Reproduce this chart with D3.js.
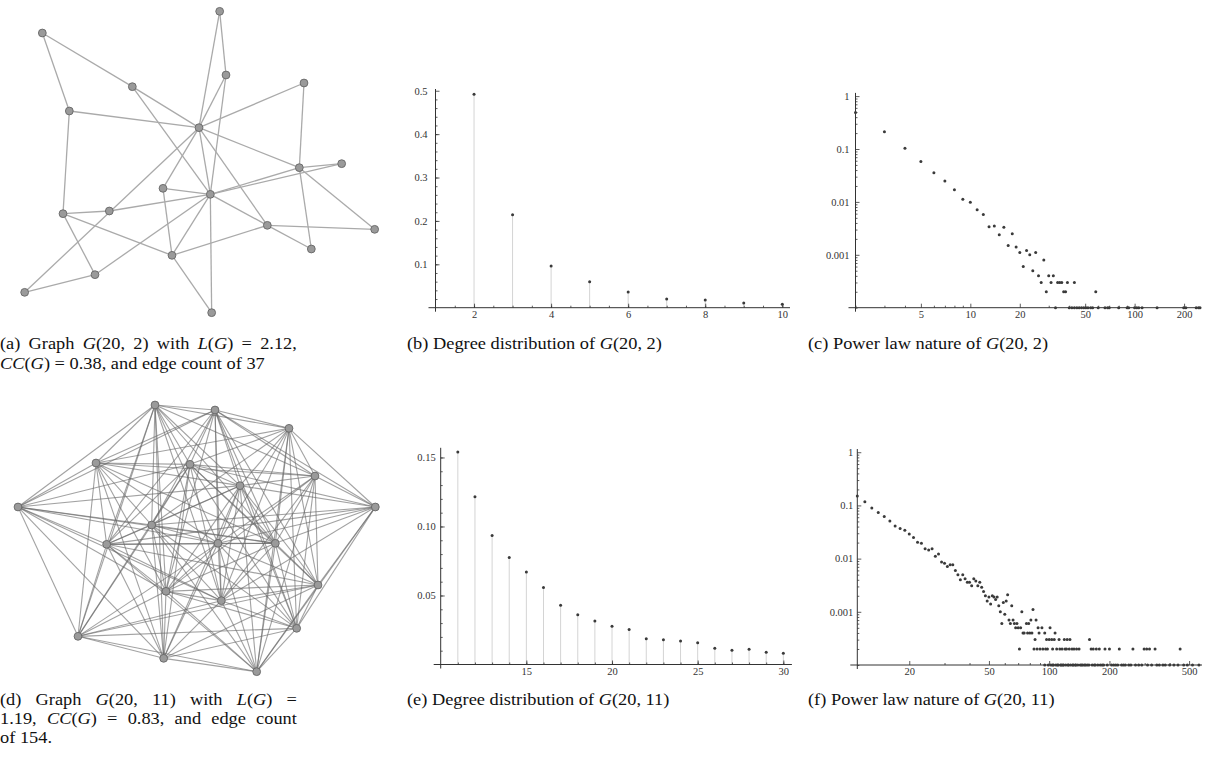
<!DOCTYPE html>
<html lang="en">
<head>
    <meta charset="utf-8">
    <title>G(20,k) graphs and degree distributions</title>
    <script src="https://cdn.jsdelivr.net/npm/d3@7"></script>
    <style>
        body { margin: 0; background: #fff; }
        svg text { font-family: "Liberation Serif", "DejaVu Serif", serif; }
        .tick text { fill: #333; font-size: 10.5px; }
    </style>
</head>
<body>
    <svg id="fig" width="1206" height="763"></svg>

    <script>
        // ---------------- data ----------------
        // graph G(20,2): node layout coords and edge list
        const nodes2 = [
            [127, 99], [659, 34], [678, 225], [397, 260], [912, 249], [208, 333], [597, 383],
            [898, 503], [1025, 491], [489, 565], [631, 583], [189, 641], [328, 633], [802, 676],
            [1124, 688], [934, 747], [516, 766], [285, 824], [74, 877], [635, 938]
        ];
        const edges2 = [
            [0, 3], [0, 5], [3, 6], [3, 10], [1, 6], [1, 2], [2, 6], [2, 10], [4, 6], [4, 7],
            [5, 6], [5, 11], [6, 7], [6, 9], [6, 10], [6, 13], [18, 6], [7, 8], [7, 14], [7, 15],
            [8, 10], [7, 10], [9, 10], [9, 16], [10, 12], [10, 13], [10, 16], [10, 17], [10, 19],
            [11, 12], [11, 16], [11, 17], [13, 14], [13, 15], [13, 16], [16, 19], [17, 18]
        ];

        // graph G(20,11): node layout coords and neighbours (j > i) of each node
        const nodes11 = [
            [465, 30], [645, 45], [867, 100], [288, 204], [570, 208], [945, 243], [720, 272],
            [54, 336], [1126, 336], [455, 390], [320, 448], [654, 445], [826, 445], [954, 570],
            [498, 589], [664, 617], [890, 700], [234, 724], [491, 790], [770, 830]
        ];
        const adj11 = [
            [1, 2, 3, 4, 5, 6, 7, 9, 10, 11, 12, 14, 15, 17, 18],
            [2, 3, 4, 5, 6, 7, 8, 9, 10, 11, 12, 13, 14, 15, 16],
            [3, 4, 5, 6, 8, 9, 11, 12, 13, 15, 16, 19],
            [4, 5, 6, 7, 9, 10, 11, 12, 14, 17, 18],
            [5, 6, 7, 8, 9, 10, 12, 13, 14, 15, 16, 17, 18],
            [6, 8, 11, 12, 13, 14, 15, 16, 19],
            [7, 8, 9, 10, 11, 12, 13, 14, 15, 16, 18, 19],
            [9, 10, 11, 12, 14, 15, 17, 18],
            [9, 10, 11, 12, 13, 15, 16, 19],
            [10, 11, 12, 14, 15, 16, 17, 18, 19],
            [11, 12, 13, 14, 15, 17, 18, 19],
            [12, 13, 14, 15, 16, 17, 18, 19],
            [13, 14, 15, 16, 19],
            [14, 15, 16, 17, 18, 19],
            [15, 16, 17, 18, 19],
            [16, 17, 18, 19],
            [17, 18, 19],
            [18, 19],
            [19],
            []
        ];

        // (b) degree distribution of G(20,2)
        const degB = [2, 3, 4, 5, 6, 7, 8, 9, 10];
        const probB = [0.492, 0.214, 0.096, 0.060, 0.036, 0.020, 0.018, 0.011, 0.008];

        // (c) power law of G(20,2): [degree, fraction]
        const powC = [
            [2, 0.49], [3, 0.212], [4, 0.103], [5, 0.058], [6, 0.0356], [7, 0.0248], [8, 0.017],
            [9, 0.0112], [10, 0.0098], [11, 0.0071], [12, 0.0058], [13, 0.0034], [14, 0.0035],
            [15, 0.0024], [16, 0.0033], [17, 0.0015], [18, 0.0025], [19, 0.0014], [20, 0.0011],
            [21, 0.0006], [22, 0.0012], [23, 0.001], [24, 0.0005], [25, 0.0011], [26, 0.0004],
            [27, 0.0003], [28, 0.0008], [29, 0.0002], [30, 0.0004], [31, 0.0003], [32, 0.0004],
            [34, 0.0003], [35, 0.0003], [36, 0.0003], [37, 0.0002], [38, 0.0002], [39, 0.0003],
            [43, 0.0003], [58, 0.0002]
        ];
        // degrees of (c) sitting on the bottom line (1e-4)
        const floorC = [33, 40, 41.5, 43, 44.5, 46, 47.5, 49, 50.5, 52, 54, 55.5, 60, 66, 68.5, 70,
            80, 90, 92, 100, 103, 106, 111, 137, 199, 205, 237, 245, 250];

        // (e) degree distribution of G(20,11)
        const degE = [11, 12, 13, 14, 15, 16, 17, 18, 19, 20, 21, 22, 23, 24, 25, 26, 27, 28, 29, 30];
        const probE = [0.1539, 0.1215, 0.0935, 0.0775, 0.0671, 0.0558, 0.0430, 0.0360, 0.0316, 0.0278,
            0.0254, 0.0186, 0.0179, 0.0171, 0.0157, 0.0118, 0.0104, 0.0111, 0.0089, 0.0082];

        // (f) power law of G(20,11)
        const powF = [
            [11, 0.15], [12, 0.117], [13, 0.089], [14, 0.074], [15, 0.062], [16, 0.051], [17, 0.041],
            [18, 0.037], [19, 0.034], [20, 0.029], [21, 0.025], [22, 0.0202], [23, 0.0194], [24, 0.0154],
            [25, 0.0145], [26, 0.0154], [27, 0.0111], [28, 0.0122], [29, 0.0086], [30, 0.0082],
            [31, 0.0071], [32, 0.0077], [33, 0.0077], [34, 0.006], [35, 0.005], [36, 0.004], [37, 0.005],
            [38, 0.0042], [39, 0.0036], [40, 0.0036], [41, 0.0031], [42, 0.0042], [43, 0.0038],
            [44, 0.0031], [45, 0.0036], [46, 0.0029], [47, 0.0024], [48, 0.002], [49, 0.0016],
            [50, 0.0019], [51, 0.0014], [52, 0.002], [53, 0.0019], [54, 0.0017], [55, 0.0019],
            [56, 0.0013], [57, 0.001], [58, 0.0006], [59, 0.0015], [60, 0.0009], [61, 0.0016],
            [62, 0.0021], [63, 0.0007], [64, 0.0006], [65, 0.0013], [66, 0.0007], [67, 0.0006],
            [68, 0.0005], [69, 0.0006], [70, 0.0005], [71, 0.0002], [72, 0.0005], [73, 0.001],
            [74, 0.0004], [75, 0.0004], [77, 0.0006], [78, 0.0004], [79, 0.0006], [80, 0.0004],
            [81, 0.0007], [82, 0.0004], [83, 0.0011], [84, 0.0002], [85, 0.0003], [86, 0.0007],
            [87, 0.0002], [88, 0.0005], [89, 0.0004], [90, 0.0002], [92, 0.0005], [93, 0.0002],
            [95, 0.0004], [96, 0.0002], [97, 0.0003], [98, 0.0002], [100, 0.0003], [101, 0.0005],
            [103, 0.0003], [104, 0.0002], [106, 0.0003], [107, 0.0004], [109, 0.0002], [112, 0.0003],
            [113, 0.0002], [116, 0.0002], [119, 0.0003], [120, 0.0002], [122, 0.0002], [123, 0.0003],
            [126, 0.0002], [127, 0.0003], [130, 0.0002], [133, 0.0002], [137, 0.0002], [141, 0.0002],
            [159, 0.0003], [162, 0.0002], [166, 0.0002], [172, 0.0002], [178, 0.0002], [190, 0.0002],
            [200, 0.0002], [224, 0.0002], [262, 0.0002], [298, 0.0002], [307, 0.0002], [317, 0.0002],
            [338, 0.0002], [451, 0.0002]
        ];
        const floorF = [95, 99, 102, 104, 105, 108, 110, 111, 114, 115, 117, 118, 121, 124, 125, 128,
            131, 132, 135, 136, 139, 143, 145, 147, 150, 152, 155, 158, 164, 168, 170, 175, 180, 184,
            187, 195, 205, 210, 215, 220, 230, 235, 240, 250, 256, 270, 280, 290, 310, 325, 345, 355,
            370, 380, 400, 420, 440, 470, 490, 520, 560];

        // tick labels
        const ticksBx = [2, 4, 6, 8, 10];
        const ticksBy = [0.1, 0.2, 0.3, 0.4, 0.5];
        const ticksCx = [5, 10, 20, 50, 100, 200];
        const ticksLogY = [0.001, 0.01, 0.1, 1];
        const ticksEx = [15, 20, 25, 30];
        const ticksEy = [0.05, 0.10, 0.15];
        const ticksFx = [20, 50, 100, 200, 500];

        // ---------------- drawing ----------------
        const svg = d3.select("#fig");

        // draw a graph panel; layout coords were read at 3x, so scale by 1/3
        function drawGraph(nodes, edges, top, edgeColor, edgeWidth) {
            const x = d3.scaleLinear().domain([0, 1170]).range([0, 390]);
            const y = d3.scaleLinear().domain([0, 990]).range([top, top + 330]);
            const g = svg.append("g");
            g.selectAll("line").data(edges).join("line")
                .attr("x1", d => x(nodes[d[0]][0]))
                .attr("y1", d => y(nodes[d[0]][1]))
                .attr("x2", d => x(nodes[d[1]][0]))
                .attr("y2", d => y(nodes[d[1]][1]))
                .attr("stroke", edgeColor)
                .attr("stroke-width", edgeWidth);
            g.selectAll("circle").data(nodes).join("circle")
                .attr("cx", d => x(d[0]))
                .attr("cy", d => y(d[1]))
                .attr("r", 3.9)
                .attr("fill", "#9a9a9a")
                .attr("stroke", "#666")
                .attr("stroke-width", 0.9);
        }

        // mathematica-like axes: ticks pointing inward, short overshoot at origin
        function drawAxes(x, y, c) {
            const g = svg.append("g");
            const ox = x.range()[0], oy = y.range()[0];

            g.append("g").attr("transform", `translate(0,${oy})`)
                .call(d3.axisBottom(x).tickValues(c.xMinor).tickFormat("").tickSizeInner(-2).tickSizeOuter(0))
                .call(a => a.select(".domain").remove());
            g.append("g").attr("transform", `translate(0,${oy})`)
                .call(d3.axisBottom(x).tickValues(c.xMajor).tickFormat(c.xFmt)
                    .tickSizeInner(-4).tickSizeOuter(0).tickPadding(3))
                .call(a => a.select(".domain").remove());

            g.append("g").attr("transform", `translate(${ox},0)`)
                .call(d3.axisLeft(y).tickValues(c.yMinor).tickFormat("").tickSizeInner(-2).tickSizeOuter(0))
                .call(a => a.select(".domain").remove());
            g.append("g").attr("transform", `translate(${ox},0)`)
                .call(d3.axisLeft(y).tickValues(c.yMajor).tickFormat(c.yFmt)
                    .tickSizeInner(-4).tickSizeOuter(0).tickPadding(c.yPad))
                .call(a => a.select(".domain").remove());

            g.selectAll("g").attr("font-family", null);
            g.selectAll(".tick line").attr("stroke", "#333").attr("stroke-width", 0.8);

            g.append("line")
                .attr("x1", ox - 7).attr("x2", x.range()[1])
                .attr("y1", oy).attr("y2", oy)
                .attr("stroke", "#333").attr("stroke-width", 1);
            g.append("line")
                .attr("x1", ox).attr("x2", ox)
                .attr("y1", oy + 4).attr("y2", y.range()[1])
                .attr("stroke", "#333").attr("stroke-width", 1);
        }

        function drawDots(pts, x, y) {
            svg.append("g").selectAll("circle").data(pts).join("circle")
                .attr("cx", d => x(d[0]))
                .attr("cy", d => y(d[1]))
                .attr("r", 1.5)
                .attr("fill", "#3a3a3a");
        }

        function drawStems(xs, ys, x, y) {
            const pts = xs.map((v, i) => [v, ys[i]]);
            svg.append("g").selectAll("line").data(pts).join("line")
                .attr("x1", d => x(d[0])).attr("x2", d => x(d[0]))
                .attr("y1", y(0)).attr("y2", d => y(d[1]))
                .attr("stroke", "#d4d4d4").attr("stroke-width", 1);
        }

        function logMinor(scale, majors) {
            return scale.ticks().filter(t => !majors.some(m => Math.abs(m - t) / t < 1e-6));
        }

        // ---- (a) and (d) graphs
        drawGraph(nodes2, edges2, 0, "#aaaaaa", 1.3);
        const edges11 = adj11.flatMap((list, i) => list.map(j => [i, j]));
        drawGraph(nodes11, edges11, 395, "rgba(105,105,105,0.62)", 1.1);

        // ---- (b) degree distribution
        {
            const x = d3.scaleLinear().domain([1, 10.2]).range([435.5, 790]);
            const y = d3.scaleLinear().domain([0, 0.504]).range([307.7, 89]);
            drawStems(degB, probB, x, y);
            drawAxes(x, y, {
                xMajor: ticksBx, xMinor: d3.range(1.5, 10.2, 0.5), xFmt: d3.format("d"),
                yMajor: ticksBy, yMinor: d3.range(0.02, 0.5, 0.02), yFmt: d3.format(".1f"), yPad: 8
            });
            drawDots(degB.map((d, i) => [d, probB[i]]), x, y);
        }

        // ---- (c) power law
        {
            const x = d3.scaleLog().domain([2, 250]).range([855.5, 1200]);
            const y = d3.scaleLog().domain([1e-4, 1.15]).range([307.7, 92.9]);
            drawAxes(x, y, {
                xMajor: ticksCx, xMinor: logMinor(x, ticksCx), xFmt: d3.format("d"),
                yMajor: ticksLogY, yMinor: logMinor(y, ticksLogY), yFmt: d => String(d), yPad: 6
            });
            drawDots(powC, x, y);
            drawDots(floorC.map(d => [d, 1e-4]), x, y);
        }

        // ---- (e) degree distribution
        {
            const x = d3.scaleLinear().domain([10, 30.5]).range([440.7, 791.9]);
            const y = d3.scaleLinear().domain([0, 0.157]).range([664.5, 447.8]);
            drawStems(degE, probE, x, y);
            drawAxes(x, y, {
                xMajor: ticksEx, xMinor: d3.range(11, 30.5, 1), xFmt: d3.format("d"),
                yMajor: ticksEy, yMinor: d3.range(0.01, 0.155, 0.01), yFmt: d3.format(".2f"), yPad: 5
            });
            drawDots(degE.map((d, i) => [d, probE[i]]), x, y);
        }

        // ---- (f) power law
        {
            const x = d3.scaleLog().domain([11, 580]).range([857.3, 1202]);
            const y = d3.scaleLog().domain([1e-4, 1.15]).range([665, 449]);
            drawAxes(x, y, {
                xMajor: ticksFx, xMinor: logMinor(x, ticksFx), xFmt: d3.format("d"),
                yMajor: ticksLogY, yMinor: logMinor(y, ticksLogY), yFmt: d => String(d), yPad: 4
            });
            drawDots(powF, x, y);
            drawDots(floorF.map(d => [d, 1e-4]), x, y);
        }

        // ---------------- captions ----------------
        const captions = [
            { x: 0, y: 349, justify: 297, parts: [["(a) Graph ", 0], ["G", 1], ["(20, 2) with ", 0], ["L", 1], ["(", 0], ["G", 1], [") = 2.12,", 0]] },
            { x: 0, y: 369, parts: [["CC", 1], ["(", 0], ["G", 1], [") = 0.38, and edge count of 37", 0]] },
            { x: 407, y: 349, parts: [["(b) Degree distribution of ", 0], ["G", 1], ["(20, 2)", 0]] },
            { x: 808, y: 349, parts: [["(c) Power law nature of ", 0], ["G", 1], ["(20, 2)", 0]] },
            { x: 0, y: 705, justify: 297, parts: [["(d) Graph ", 0], ["G", 1], ["(20, 11) with ", 0], ["L", 1], ["(", 0], ["G", 1], [") =", 0]] },
            { x: 0, y: 724, justify: 297, parts: [["1.19, ", 0], ["CC", 1], ["(", 0], ["G", 1], [") = 0.83, and edge count", 0]] },
            { x: 0, y: 743, parts: [["of 154.", 0]] },
            { x: 407, y: 705, parts: [["(e) Degree distribution of ", 0], ["G", 1], ["(20, 11)", 0]] },
            { x: 808, y: 705, parts: [["(f) Power law nature of ", 0], ["G", 1], ["(20, 11)", 0]] }
        ];

        const capG = svg.append("g");
        const capText = captions.map(c => {
            const g = capG.append("g");
            const t = g.append("text").attr("font-size", 17).attr("fill", "#111");
            c.parts.forEach(p => t.append("tspan").text(p[0]).attr("font-style", p[1] ? "italic" : "normal"));
            return { c, g, t };
        });
        // condense glyphs; caption (b) spans about 255px in the reference
        const sx = 255 / capText[2].t.node().getComputedTextLength();
        capText.forEach(({ c, g, t }) => {
            if (c.justify) {
                const nat = t.node().getComputedTextLength();
                const spaces = c.parts.map(p => p[0]).join("").split(" ").length - 1;
                t.attr("word-spacing", (c.justify / sx - nat) / spaces);
            }
            g.attr("transform", `translate(${c.x},${c.y}) scale(${sx},1)`);
        });
    </script>
</body>
</html>
